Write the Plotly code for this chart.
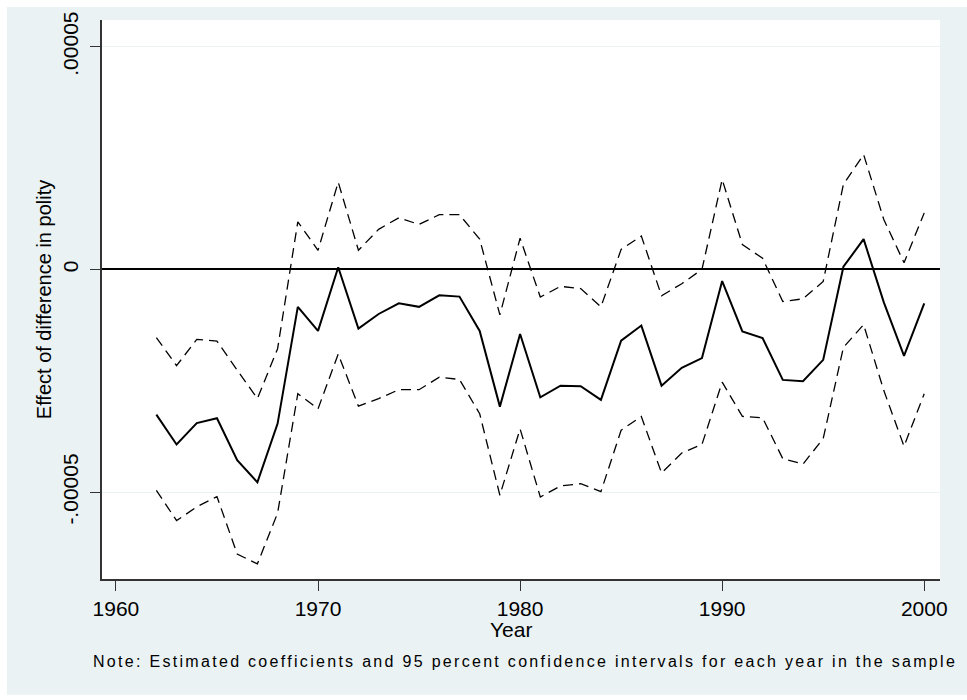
import plotly.graph_objects as go

# Yearly estimates of the polity-difference effect (in units of 1e-5)
years = list(range(1962, 2001))
coef = [-3.26, -3.93, -3.45, -3.34, -4.28, -4.78, -3.46, -0.84, -1.38, 0.05,
        -1.33, -1.00, -0.76, -0.84, -0.58, -0.61, -1.38, -3.08, -1.45, -2.87,
        -2.61, -2.62, -2.93, -1.60, -1.26, -2.61, -2.21, -1.99, -0.26, -1.39,
        -1.54, -2.48, -2.51, -2.03, 0.06, 0.68, -0.74, -1.94, -0.76]
upper = [-1.53, -2.16, -1.57, -1.61, -2.26, -2.90, -1.78, 1.07, 0.43, 1.96,
         0.43, 0.90, 1.16, 1.01, 1.23, 1.23, 0.68, -1.02, 0.70, -0.62,
         -0.38, -0.43, -0.84, 0.45, 0.75, -0.59, -0.32, 0.00, 2.02, 0.56,
         0.25, -0.72, -0.66, -0.27, 1.91, 2.58, 1.12, 0.15, 1.27]
lower = [-4.96, -5.64, -5.33, -5.10, -6.39, -6.61, -5.47, -2.79, -3.13, -1.90,
         -3.07, -2.90, -2.70, -2.70, -2.42, -2.47, -3.24, -5.07, -3.58, -5.11,
         -4.86, -4.81, -4.99, -3.61, -3.30, -4.57, -4.12, -3.93, -2.53, -3.30,
         -3.33, -4.25, -4.37, -3.80, -1.75, -1.24, -2.72, -3.97, -2.79]
scale = 1e-5

x_ticks = [1960, 1970, 1980, 1990, 2000]
y_ticks = [-0.00005, 0, 0.00005]
y_tick_text = ["-.00005", "0", ".00005"]

BG = "#EAF2F3"
FONT = "Liberation Sans, Arial, sans-serif"

fig = go.Figure()
fig.add_trace(go.Scatter(x=years, y=[v * scale for v in upper], mode="lines",
                         line=dict(color="black", width=1.3, dash="10px,6px"),
                         hoverinfo="skip"))
fig.add_trace(go.Scatter(x=years, y=[v * scale for v in coef], mode="lines",
                         line=dict(color="black", width=2)))
fig.add_trace(go.Scatter(x=years, y=[v * scale for v in lower], mode="lines",
                         line=dict(color="black", width=1.3, dash="10px,6px"),
                         hoverinfo="skip"))

# graph region (light bluish gray) and white plot region
fig.add_shape(type="rect", xref="paper", yref="paper", layer="below",
              x0=-0.1134, x1=1.1, y0=-0.207, y1=1.0232,
              fillcolor=BG, line=dict(width=0))
fig.add_shape(type="rect", xref="paper", yref="paper", layer="below",
              x0=0, x1=1, y0=0, y1=1,
              fillcolor="white", line=dict(width=0))

fig.add_annotation(
    text="Year", xref="paper", yref="paper", x=0.488, y=-0.091,
    xanchor="center", yanchor="middle", showarrow=False,
    font=dict(family=FONT, size=21, color="black"))

fig.add_annotation(
    text='<span style="letter-spacing:2.3px">Note: Estimated coefficients and 95 percent '
         'confidence intervals for each year in the sample</span>',
    xref="paper", yref="paper", x=-0.013, y=-0.148,
    xanchor="left", yanchor="middle", showarrow=False,
    font=dict(family=FONT, size=16, color="black"))

fig.update_layout(
    width=967, height=700,
    margin=dict(l=102, r=27, t=18, b=121),
    paper_bgcolor="white", plot_bgcolor="white",
    showlegend=False,
    font=dict(family=FONT, color="black"),
    xaxis=dict(
        range=[1959.31, 2000.78], tickvals=x_ticks,
        ticks="outside", ticklen=10, tickwidth=1.3, tickcolor="#333",
        showline=True, linecolor="#333", linewidth=2,
        showgrid=False, zeroline=False,
        tickfont=dict(size=21),
    ),
    yaxis=dict(
        range=[-6.95e-5, 5.6e-5], tickvals=y_ticks, ticktext=y_tick_text,
        tickangle=-90, ticklabelstandoff=4,
        ticks="outside", ticklen=10, tickwidth=1.3, tickcolor="#333",
        showline=True, linecolor="#333", linewidth=2,
        showgrid=True, gridcolor=BG, gridwidth=1,
        zeroline=True, zerolinecolor="black", zerolinewidth=1.8,
        tickfont=dict(size=21),
        title=dict(text="Effect of difference in polity", font=dict(size=20), standoff=2),
    ),
)

fig.write_html("out.html")
